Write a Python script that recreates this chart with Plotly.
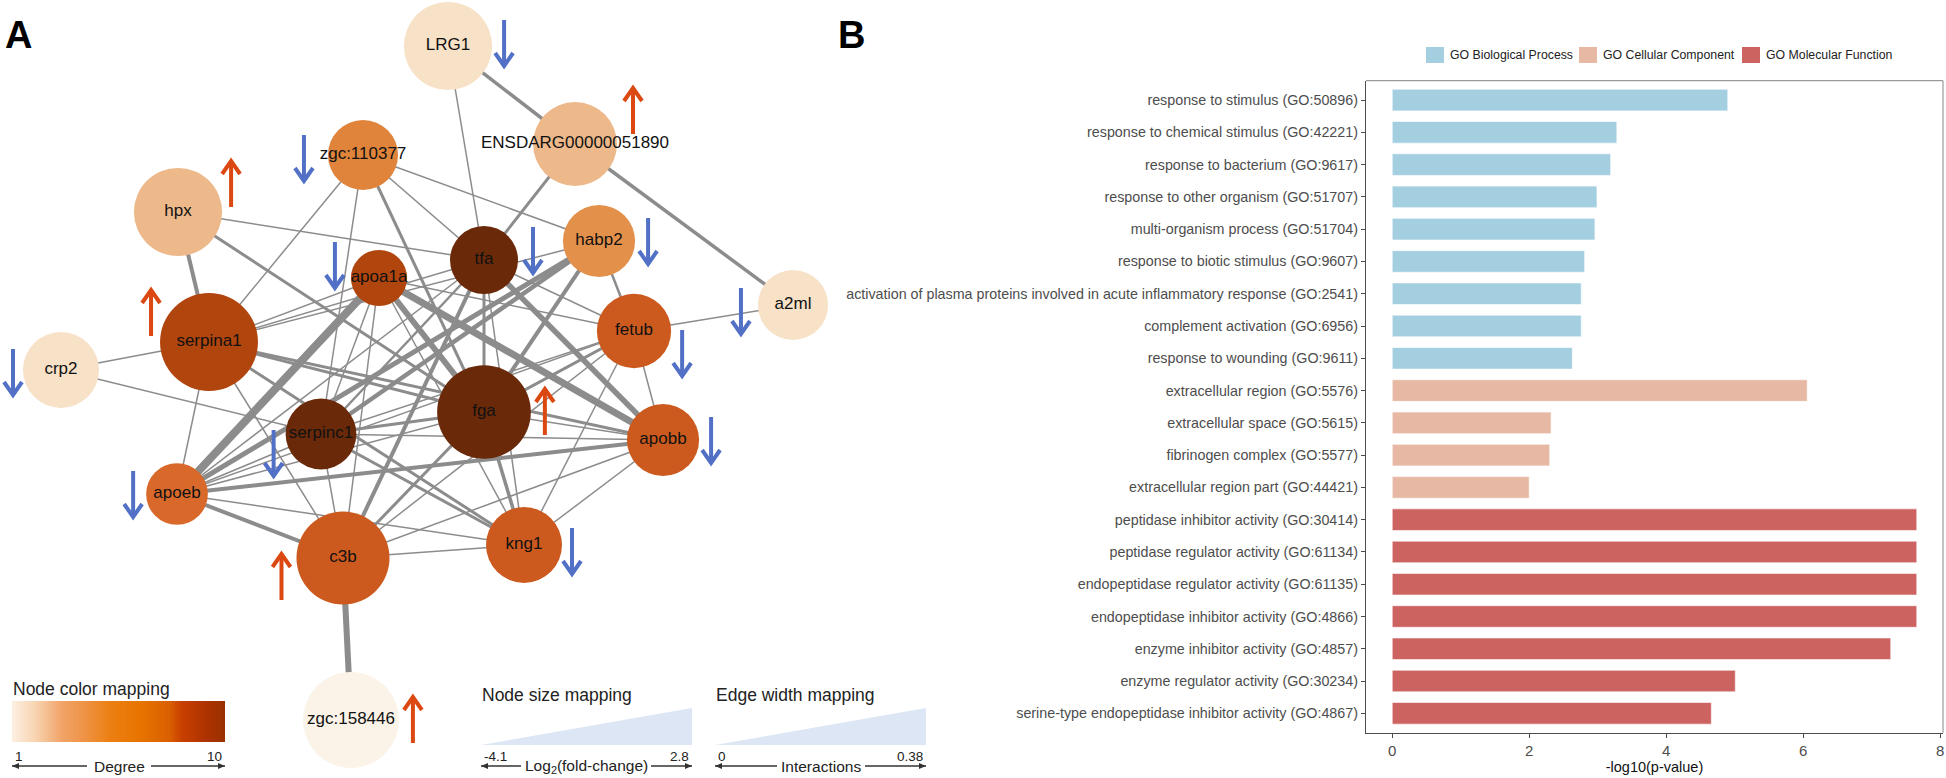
import numpy as np
import plotly.graph_objects as go
from plotly.colors import sample_colorscale

# ---- panel A: network ----
nodes = ["LRG1", "ENSDARG00000051890", "zgc:110377", "hpx", "habp2", "tfa",
         "apoa1a", "serpina1", "crp2", "fetub", "a2ml", "fga", "serpinc1",
         "apobb", "apoeb", "c3b", "kng1", "zgc:158446"]
node_x = [448, 575, 363, 178, 599, 484, 379, 209, 61, 634, 793, 484, 321, 663, 177, 343, 524, 351]
node_y = [46, 144, 155, 212, 241, 260, 278, 342, 370, 331, 305, 412, 434, 440, 494, 558, 545, 720]
log2fc = [1.1, 0.5, -1.5, 1.1, -1.2, -1.8, -3.5, 2.5, -0.65, -0.9, -1.5, 1.9, -1.4, -1.2, -2.7, 1.8, -0.65, 2.2]
degree = [2, 3, 5, 3, 4, 10, 8, 8, 2, 7, 2, 10, 10, 7, 6, 7, 7, 1]
regulation = ["down", "up", "down", "up", "down", "down", "down", "up", "down", "down",
              "down", "up", "down", "down", "down", "up", "down", "up"]

edges = [
    ("LRG1", "ENSDARG00000051890", 0.115), ("LRG1", "tfa", 0.015),
    ("ENSDARG00000051890", "a2ml", 0.115), ("ENSDARG00000051890", "tfa", 0.09),
    ("zgc:110377", "tfa", 0.015), ("zgc:110377", "habp2", 0.015),
    ("zgc:110377", "fga", 0.09), ("zgc:110377", "serpinc1", 0.015),
    ("zgc:110377", "serpina1", 0.015),
    ("hpx", "serpina1", 0.14), ("hpx", "tfa", 0.015), ("hpx", "fga", 0.09),
    ("habp2", "fetub", 0.065), ("habp2", "apoeb", 0.19), ("habp2", "serpinc1", 0.165),
    ("habp2", "fga", 0.14),
    ("tfa", "apobb", 0.215), ("tfa", "fetub", 0.015), ("tfa", "fga", 0.09),
    ("tfa", "kng1", 0.015), ("tfa", "c3b", 0.14), ("tfa", "serpinc1", 0.065),
    ("tfa", "serpina1", 0.015), ("tfa", "apoeb", 0.015),
    ("apoa1a", "serpina1", 0.015), ("apoa1a", "apoeb", 0.34), ("apoa1a", "apobb", 0.29),
    ("apoa1a", "fga", 0.24), ("apoa1a", "serpinc1", 0.015), ("apoa1a", "c3b", 0.015),
    ("apoa1a", "kng1", 0.015), ("apoa1a", "fetub", 0.015),
    ("serpina1", "crp2", 0.015), ("serpina1", "fga", 0.09), ("serpina1", "apobb", 0.09),
    ("serpina1", "kng1", 0.09), ("serpina1", "c3b", 0.015), ("serpina1", "apoeb", 0.015),
    ("serpina1", "habp2", 0.015),
    ("crp2", "serpinc1", 0.015),
    ("fetub", "a2ml", 0.015), ("fetub", "apobb", 0.015), ("fetub", "kng1", 0.015),
    ("fetub", "fga", 0.09), ("fetub", "serpinc1", 0.015), ("fetub", "apoeb", 0.015),
    ("fetub", "c3b", 0.015),
    ("fga", "apobb", 0.015), ("fga", "kng1", 0.115), ("fga", "serpinc1", 0.09),
    ("fga", "apoeb", 0.015), ("fga", "c3b", 0.09),
    ("serpinc1", "kng1", 0.09), ("serpinc1", "c3b", 0.015), ("serpinc1", "apobb", 0.015),
    ("serpinc1", "apoeb", 0.015),
    ("apoeb", "apobb", 0.14), ("apoeb", "c3b", 0.14), ("apoeb", "kng1", 0.015),
    ("c3b", "apobb", 0.015), ("c3b", "kng1", 0.015), ("c3b", "zgc:158446", 0.24),
    ("kng1", "apobb", 0.015),
]

# ---- panel B: GO enrichment ----
go_terms = [
    "response to stimulus (GO:50896)",
    "response to chemical stimulus (GO:42221)",
    "response to bacterium (GO:9617)",
    "response to other organism (GO:51707)",
    "multi-organism process (GO:51704)",
    "response to biotic stimulus (GO:9607)",
    "activation of plasma proteins involved in acute inflammatory response (GO:2541)",
    "complement activation (GO:6956)",
    "response to wounding (GO:9611)",
    "extracellular region (GO:5576)",
    "extracellular space (GO:5615)",
    "fibrinogen complex (GO:5577)",
    "extracellular region part (GO:44421)",
    "peptidase inhibitor activity (GO:30414)",
    "peptidase regulator activity (GO:61134)",
    "endopeptidase regulator activity (GO:61135)",
    "endopeptidase inhibitor activity (GO:4866)",
    "enzyme inhibitor activity (GO:4857)",
    "enzyme regulator activity (GO:30234)",
    "serine-type endopeptidase inhibitor activity (GO:4867)",
]
go_logp = [4.9, 3.28, 3.19, 2.99, 2.96, 2.81, 2.76, 2.76, 2.63,
           6.06, 2.32, 2.30, 2.0,
           7.66, 7.66, 7.66, 7.66, 7.28, 5.01, 4.66]
go_class = ["GO Biological Process"] * 9 + ["GO Cellular Component"] * 4 + ["GO Molecular Function"] * 7
class_names = ["GO Biological Process", "GO Cellular Component", "GO Molecular Function"]
class_colors = ["#A4CFE1", "#E7B9A4", "#CD6361"]

W, H = 1946, 778
FONT = "Liberation Sans, Arial, sans-serif"

degree_scale = [[0.0, "#FBF3E8"], [1 / 9, "#F7E1C7"], [2 / 9, "#EDB98A"], [3 / 9, "#E3904A"],
                [4 / 9, "#E0843C"], [5 / 9, "#D9692A"], [6 / 9, "#CC5A1E"], [7 / 9, "#B0450E"],
                [1.0, "#6A2A0A"]]
legend_scale = [[0.0, "#FCEFE0"], [0.1, "#F8D6B4"], [0.23, "#F1A469"], [0.35, "#EE9142"],
                [0.46, "#EC7F12"], [0.6, "#E87400"], [0.74, "#DA6000"], [0.8, "#C94000"],
                [0.9, "#B13400"], [1.0, "#9A3000"]]

idx = {n: i for i, n in enumerate(nodes)}
radius = [26 + (v + 4.1) * 24 / 6.9 for v in log2fc]
colors = sample_colorscale(degree_scale, [(d - 1) / 9 for d in degree])

fig = go.Figure()

for a, b, s in edges:
    i, j = idx[a], idx[b]
    fig.add_trace(go.Scatter(x=[node_x[i], node_x[j]], y=[node_y[i], node_y[j]], mode="lines",
                             line=dict(color="#8C8C8C", width=1.2 + 20 * s),
                             hoverinfo="skip", showlegend=False, xaxis="x", yaxis="y"))

fig.add_trace(go.Scatter(x=node_x, y=node_y, mode="markers+text", text=nodes,
                         marker=dict(size=[2 * r for r in radius], color=colors, line=dict(width=0), opacity=1),
                         textposition="middle center",
                         textfont=dict(family=FONT, size=17, color="#111111"),
                         hovertext=[f"{n}<br>degree {d}<br>log2FC {v}" for n, d, v in zip(nodes, degree, log2fc)],
                         hoverinfo="text", showlegend=False, xaxis="x", yaxis="y"))

# regulation arrows: (side, vertical offset, gap) per node
arrow_place = {
    "LRG1": (1, -3, 12), "ENSDARG00000051890": (1, -33, 16), "zgc:110377": (-1, 3, 24),
    "hpx": (1, -28, 9), "habp2": (1, 0, 13), "tfa": (1, -10, 15), "apoa1a": (-1, -13, 16),
    "serpina1": (-1, -29, 9), "crp2": (-1, 2, 10), "fetub": (1, 22, 11), "a2ml": (-1, 6, 17),
    "fga": (1, 0, 14), "serpinc1": (-1, 19, 12), "apobb": (1, 0, 12), "apoeb": (-1, 0, 13),
    "c3b": (-1, 19, 15), "kng1": (1, 6, 10), "zgc:158446": (1, 0, 14),
}
for direction, col in [("up", "#DC4812"), ("down", "#5270C6")]:
    xs, ys = [], []
    for n, reg in zip(nodes, regulation):
        if reg != direction:
            continue
        i = idx[n]
        side, dy, gap = arrow_place[n]
        ax = node_x[i] + side * (radius[i] + gap)
        ay = node_y[i] + dy
        sgn = -1 if direction == "up" else 1
        tip = ay + sgn * 23
        tail = ay - sgn * 23
        xs += [ax, ax, None, ax - 9, ax, ax + 9, None]
        ys += [tail, tip, None, tip - sgn * 13, tip, tip - sgn * 13, None]
    fig.add_trace(go.Scatter(x=xs, y=ys, mode="lines", line=dict(color=col, width=4),
                             hoverinfo="skip", showlegend=False, xaxis="x", yaxis="y"))

# colour legend bar
fig.add_trace(go.Heatmap(x=np.linspace(12, 225, 121), y=[701, 742], z=[np.linspace(1, 10, 120)],
                         colorscale=legend_scale, zmin=1, zmax=10, showscale=False,
                         hoverinfo="skip", xaxis="x", yaxis="y"))

# ---- panel B bars ----
for cname, ccol in zip(class_names, class_colors):
    ys = [t for t, c in zip(go_terms, go_class) if c == cname]
    xs = [v for v, c in zip(go_logp, go_class) if c == cname]
    fig.add_trace(go.Bar(x=xs, y=ys, orientation="h", name=cname, width=0.67,
                         marker=dict(color=ccol, line=dict(color="rgba(255,255,255,0.6)", width=1)),
                         showlegend=False, xaxis="x2", yaxis="y2"))

bx0, bx1 = 1366 / W, 1943 / W
by0, by1 = 1 - 732.7 / H, 1 - 80.7 / H

shapes = [
    dict(type="path", path="M 481 745 L 692 708 L 692 745 Z", xref="x", yref="y",
         fillcolor="#DCE6F4", line=dict(width=0), layer="below"),
    dict(type="path", path="M 715 745 L 926 708 L 926 745 Z", xref="x", yref="y",
         fillcolor="#DCE6F4", line=dict(width=0), layer="below"),
    dict(type="line", xref="paper", yref="paper", x0=bx0, x1=bx1, y0=by1, y1=by1,
         line=dict(color="#9A9A9A", width=1.2)),
    dict(type="line", xref="paper", yref="paper", x0=bx1, x1=bx1, y0=by0, y1=by1,
         line=dict(color="#9A9A9A", width=1.2)),
]

annotations = [
    dict(text="<b>A</b>", x=18, y=35, xref="x", yref="y", showarrow=False,
         font=dict(family=FONT, size=38, color="#000")),
    dict(text="<b>B</b>", x=851, y=35, xref="x", yref="y", showarrow=False,
         font=dict(family=FONT, size=38, color="#000")),
    dict(text="Node color mapping", x=11, y=689, xref="x", yref="y", xanchor="left", showarrow=False,
         font=dict(family=FONT, size=17.5, color="#222")),
    dict(text="Node size mapping", x=480, y=695, xref="x", yref="y", xanchor="left", showarrow=False,
         font=dict(family=FONT, size=17.5, color="#222")),
    dict(text="Edge width mapping", x=714, y=695, xref="x", yref="y", xanchor="left", showarrow=False,
         font=dict(family=FONT, size=17.5, color="#222")),
]

scale_labels = [
    # (left end, right end, left label, right label, caption, caption centre, gap half-width)
    (12, 225, "1", "10", "Degree", 119, 32),
    (481, 692, "-4.1", "2.8", "Log<sub>2</sub>(fold-change)", 586, 65),
    (715, 926, "0", "0.38", "Interactions", 821, 44),
]
for x0, x1, l0, l1, cap, cx, hw in scale_labels:
    annotations += [
        dict(text=l0, x=x0 + 1, y=756, xref="x", yref="y", xanchor="left", showarrow=False,
             font=dict(family=FONT, size=13.5, color="#222")),
        dict(text=l1, x=x1 - 1, y=756, xref="x", yref="y", xanchor="right", showarrow=False,
             font=dict(family=FONT, size=13.5, color="#222")),
        dict(text=cap, x=cx, y=766, xref="x", yref="y", showarrow=False,
             font=dict(family=FONT, size=15.5, color="#222")),
    ]
    for xa, xb, sgn in [(x0, cx - hw, 1), (x1, cx + hw, -1)]:
        shapes.append(dict(type="line", xref="x", yref="y", x0=xa, x1=xb, y0=766, y1=766,
                           line=dict(color="#333", width=1.3)))
        shapes.append(dict(type="path", xref="x", yref="y",
                           path=f"M {xa} 766 L {xa + sgn * 7} 763 L {xa + sgn * 7} 769 Z",
                           fillcolor="#333", line=dict(width=0)))

# manual legend for panel B
key_x = [1426, 1579, 1742]
for kx, cname, ccol in zip(key_x, class_names, class_colors):
    shapes.append(dict(type="rect", xref="x", yref="y", x0=kx, x1=kx + 18, y0=47, y1=63,
                       fillcolor=ccol, line=dict(width=0)))
    annotations.append(dict(text=cname, x=kx + 22, y=55, xref="x", yref="y", xanchor="left",
                            showarrow=False, font=dict(family=FONT, size=12.3, color="#222")))

fig.update_layout(
    width=W, height=H, margin=dict(l=0, r=0, t=0, b=0),
    paper_bgcolor="white", plot_bgcolor="rgba(0,0,0,0)",
    xaxis=dict(domain=[0, 1], range=[0, W], visible=False, fixedrange=True),
    yaxis=dict(domain=[0, 1], range=[H, 0], visible=False, fixedrange=True),
    xaxis2=dict(domain=[bx0, bx1], anchor="y2", range=[-0.383, 8.043], tickvals=[0, 2, 4, 6, 8],
                showgrid=False, zeroline=False, showline=True, linecolor="#4D4D4D", linewidth=1.3,
                ticks="outside", ticklen=4, tickcolor="#4D4D4D",
                tickfont=dict(family=FONT, size=15, color="#4D4D4D"),
                title=dict(text="-log10(p-value)", standoff=3,
                           font=dict(family=FONT, size=14.5, color="#111"))),
    yaxis2=dict(domain=[by0, by1], anchor="x2", type="category", categoryorder="array",
                categoryarray=go_terms, range=[19.6, -0.6],
                showgrid=False, zeroline=False, showline=True, linecolor="#4D4D4D", linewidth=1.3,
                ticks="outside", ticklen=4, tickcolor="#4D4D4D",
                tickfont=dict(family=FONT, size=14.3, color="#4D4D4D")),
    shapes=shapes, annotations=annotations, bargap=0.33,
)

fig.write_html("out.html", config={"displayModeBar": False},
               post_script="document.body.style.margin='0';document.body.style.overflow='hidden';")
